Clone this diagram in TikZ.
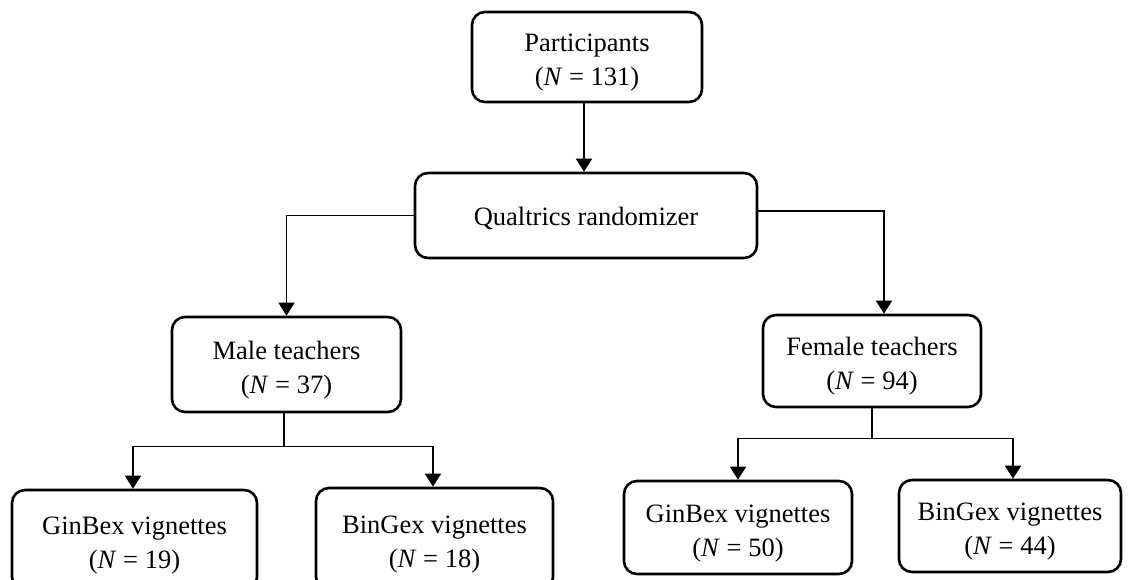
\documentclass[tikz,border=0pt]{standalone}
\usepackage{fontspec}
\setmainfont{Liberation Serif}
\usetikzlibrary{arrows.meta}
\newcommand{\topstrut}{\rule{0pt}{29pt}}
\begin{document}
\begin{tikzpicture}[x=1pt,y=-1pt,
  box/.style={draw, line width=2.6pt, rounded corners=13pt, align=center, inner sep=0pt,
    font=\fontsize{26.5}{34}\selectfont},
  conn/.style={line width=1.5pt},
  arr/.style={conn, -{Triangle[width=16pt,length=13pt]}}]
\useasboundingbox (0,0) rectangle (1148,580);
\clip (0,0) rectangle (1148,580);
\node[box, minimum width=230pt, minimum height=90pt] (P) at (587,57) {\topstrut Participants\\(\textit{N} = 131)};
\node[box, minimum width=342pt, minimum height=85pt] (Q) at (586,215.5) {\rule{0pt}{24pt}Qualtrics randomizer};
\node[box, minimum width=229pt, minimum height=95pt] (M) at (286.5,364.5) {\topstrut Male teachers\\(\textit{N} = 37)};
\node[box, minimum width=218pt, minimum height=92pt] (F) at (872,361) {\topstrut Female teachers\\(\textit{N} = 94)};
\node[box, minimum width=245pt, minimum height=100pt] (GL) at (134.5,540) {\topstrut GinBex vignettes\\(\textit{N} = 19)};
\node[box, minimum width=237pt, minimum height=102pt] (BL) at (434.5,539) {\topstrut BinGex vignettes\\(\textit{N} = 18)};
\node[box, minimum width=228pt, minimum height=93pt] (GR) at (738,527.5) {\topstrut GinBex vignettes\\(\textit{N} = 50)};
\node[box, minimum width=222pt, minimum height=92pt] (BR) at (1010,526) {\topstrut BinGex vignettes\\(\textit{N} = 44)};
\draw[arr] ([xshift=-3pt]P.south) -- ([xshift=-3pt]P.south |- Q.north);
\draw[arr] (Q.west) -| (M.north);
\draw[arr] ([yshift=4.5pt]Q.east) -| ([xshift=12pt]F.north);
\draw[conn] ([xshift=-2.5pt]M.south) -- ++(0,33) coordinate (mj);
\draw[arr] (mj) -| ([xshift=-1.5pt]GL.north);
\draw[arr] (mj) -| ([xshift=-1.5pt]BL.north);
\draw[conn] (F.south) -- ++(0,30) coordinate (fj);
\draw[arr] (fj) -| (GR.north);
\draw[arr] (fj) -| ([xshift=3pt]BR.north);
\end{tikzpicture}
\end{document}
